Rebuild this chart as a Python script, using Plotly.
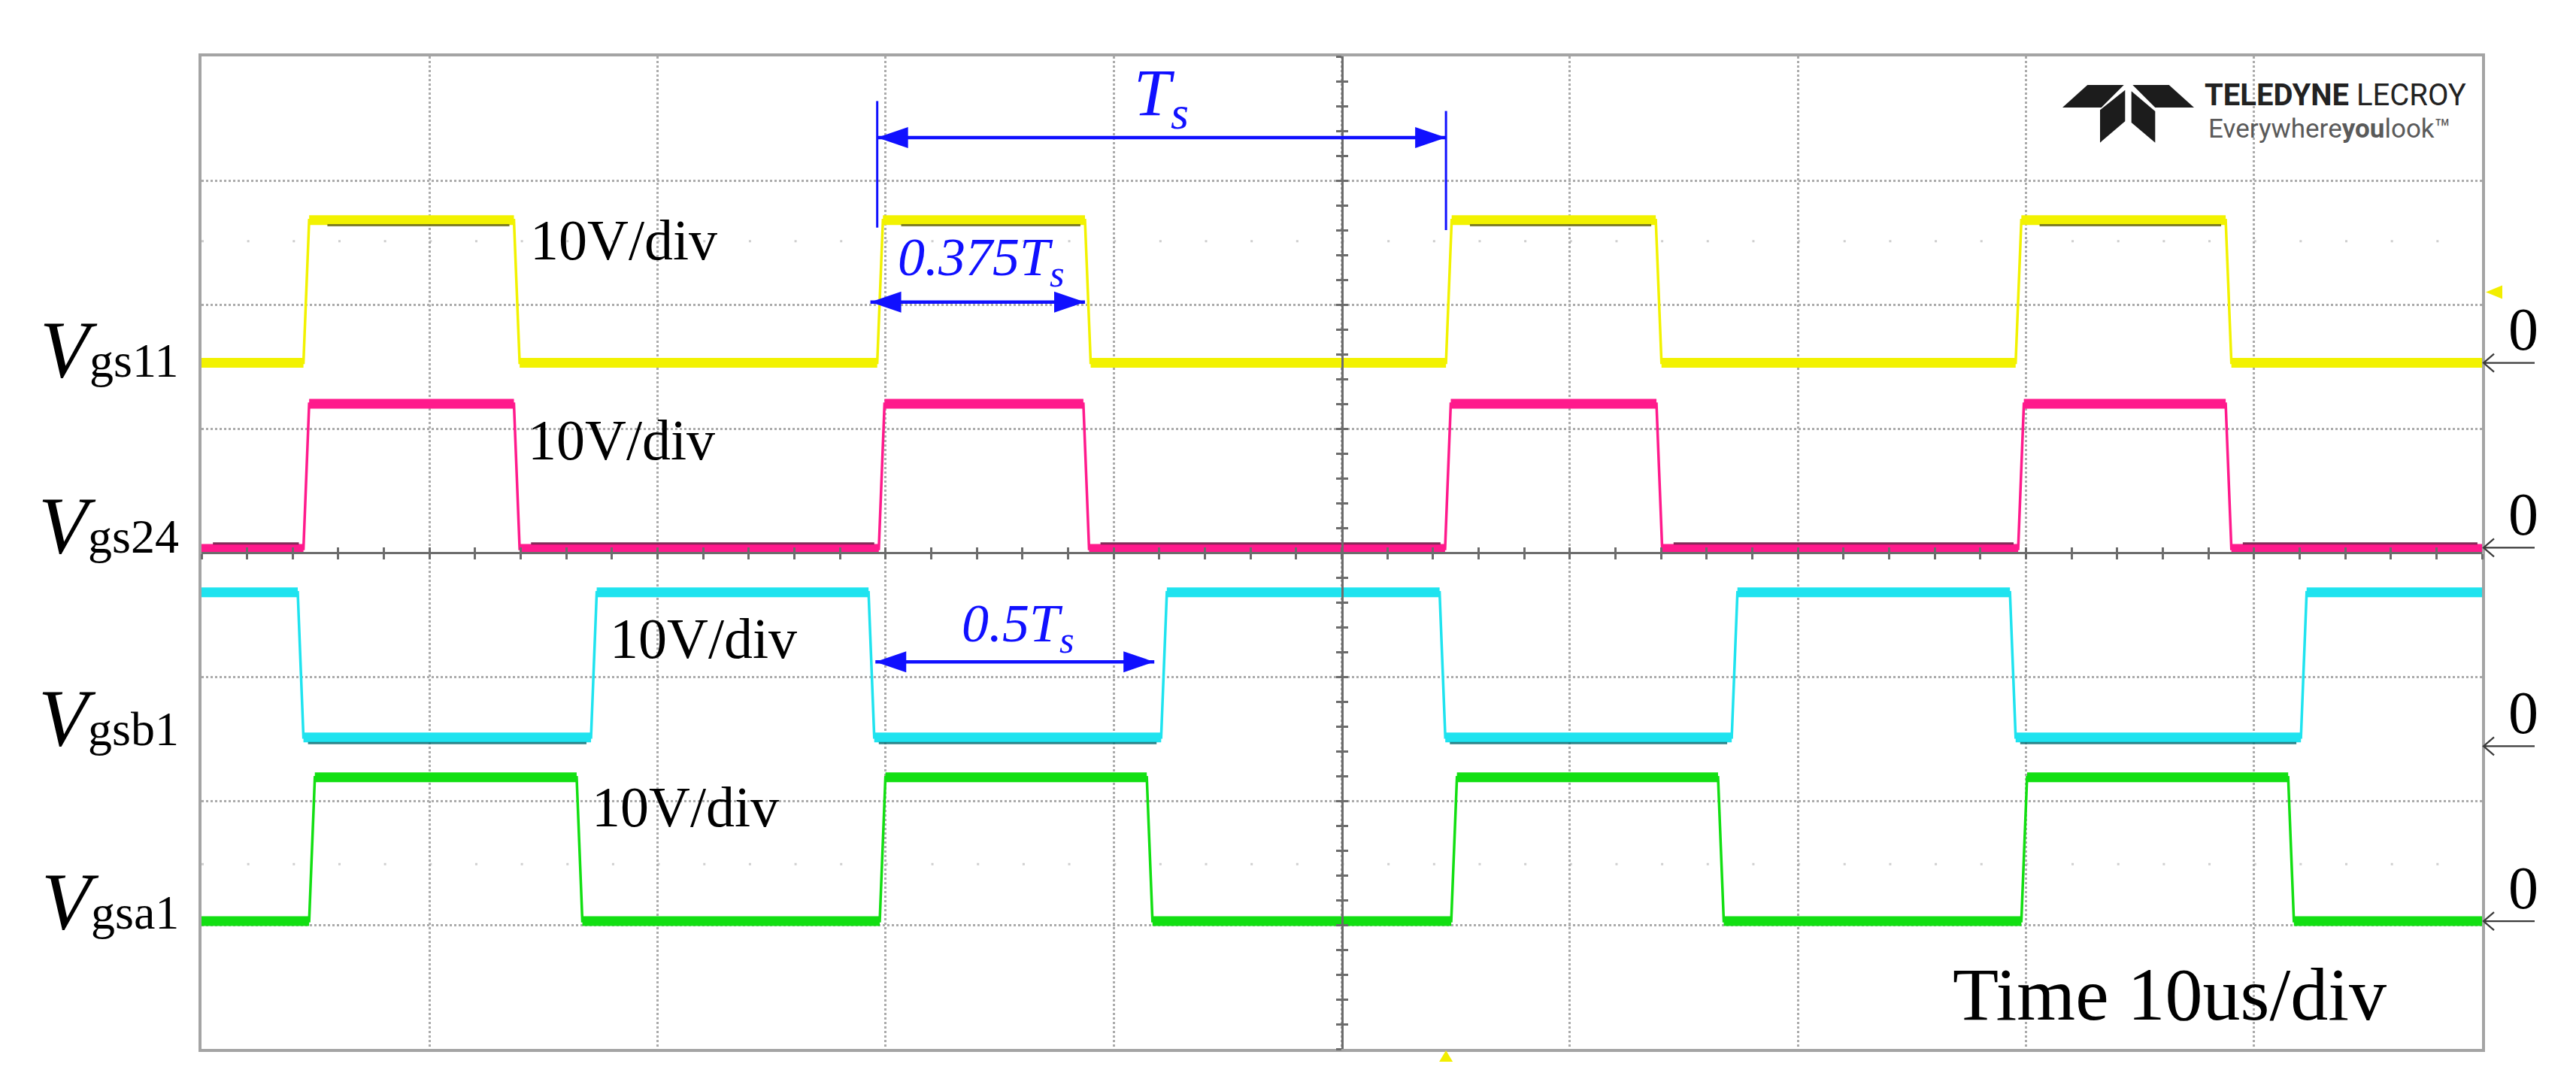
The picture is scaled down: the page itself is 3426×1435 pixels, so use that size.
import plotly.graph_objects as go

# scope screen: 10 time divisions (10 us/div), 8 amplitude divisions (10 V/div)
x_range = [0, 10]
y_range = [-4, 4]

channels = ["gs11", "gs24", "gsb1", "gsa1"]
colors = ["#f2f200", "#ff1a8c", "#1fe3ef", "#12df12"]
shadow_colors = ["#6a6a14", "#6e1040", "#0d6f76", "#0b6a0b"]

# levels in divisions
low_levels = [1.53, 0.03, -1.49, -2.97]
high_levels = [2.68, 1.20, -0.32, -1.81]
zero_marks = [1.53, 0.04, -1.56, -2.97]
start_high = [False, False, True, False]

# switching edges in divisions
rise_edges = [
    [0.447, 2.963, 5.457, 7.955],
    [0.447, 2.970, 5.453, 7.966],
    [1.708, 4.208, 6.710, 9.206],
    [0.472, 2.974, 5.480, 7.980],
]
fall_edges = [
    [1.370, 3.874, 6.377, 8.876],
    [1.370, 3.867, 6.380, 8.876],
    [0.422, 2.925, 5.429, 7.930],
    [1.645, 4.145, 6.650, 9.150],
]

label_y = [1.64, 0.22, -1.33, -2.81]
div_labels = ["10V/div"] * 4
div_label_pos = [(1.85, 2.52), (1.84, 0.91), (2.20, -0.69), (2.12, -2.05)]

# plot frame in screen pixels
L, R, T, B = 260, 3293, 67, 1387
W, H = 3426, 1435
EDGE = 0.025


def px_x(p):
    return (p - L) / (R - L)


def px_y(p):
    return (B - p) / (B - T)


def build_wave(lo, hi, rises, falls, high_first):
    events = sorted([(t, hi) for t in rises] + [(t, lo) for t in falls])
    cur = hi if high_first else lo
    xs, ys = [x_range[0]], [cur]
    segs = []
    seg_start = x_range[0]
    for t, new in events:
        xs += [t, t + EDGE]
        ys += [cur, new]
        segs.append((seg_start, t, cur))
        seg_start = t + EDGE
        cur = new
    xs.append(x_range[1])
    ys.append(cur)
    segs.append((seg_start, x_range[1], cur))
    return xs, ys, segs


fig = go.Figure()

for i, ch in enumerate(channels):
    xs, ys, segs = build_wave(low_levels[i], high_levels[i], rise_edges[i], fall_edges[i], start_high[i])
    bx, by = [], []
    for a, b, lev in segs:
        bx += [a, b, None]
        by += [lev, lev, None]
    fig.add_trace(go.Scatter(x=bx, y=by, mode="lines", line=dict(color=colors[i], width=13),
                             hoverinfo="skip", showlegend=False))
    fig.add_trace(go.Scatter(x=xs, y=ys, mode="lines", line=dict(color=colors[i], width=3.5),
                             name="V" + ch, showlegend=False))
    # darker persistence streak inside the thick bands
    sx, sy = [], []
    for a, b, lev in segs:
        if ch == "gs11" and lev == high_levels[i]:
            sx += [a + 0.08, b - 0.02, None]
            sy += [lev - 0.04, lev - 0.04, None]
        if ch == "gs24" and lev == low_levels[i]:
            sx += [a + 0.05, b - 0.02, None]
            sy += [lev + 0.045, lev + 0.045, None]
        if ch == "gsb1" and lev == low_levels[i]:
            sx += [a + 0.02, b - 0.02, None]
            sy += [lev - 0.045, lev - 0.045, None]
    if sx:
        fig.add_trace(go.Scatter(x=sx, y=sy, mode="lines", line=dict(color=shadow_colors[i], width=3),
                                 opacity=0.85, hoverinfo="skip", showlegend=False))

# dummy traces so the centre graticule axes get drawn
for xa, ya in [("x2", "y"), ("x3", "y"), ("x", "y2"), ("x", "y3")]:
    fig.add_trace(go.Scatter(x=[5], y=[0], xaxis=xa, yaxis=ya, mode="markers",
                             marker=dict(opacity=0), hoverinfo="skip", showlegend=False))

grid = dict(showgrid=True, gridcolor="#ababab", griddash="dot", gridwidth=3, dtick=1, tick0=0,
            showline=True, mirror=True, linecolor="#a4a4a4", linewidth=4,
            zeroline=False, showticklabels=False, ticks="", fixedrange=True)
centre = dict(anchor="free", position=0.5, dtick=0.2, tick0=0, showgrid=False, zeroline=False,
              showticklabels=False, ticklen=7, tickwidth=3, tickcolor="#6c6c6c", fixedrange=True)

shapes = []
annotations = []

# channel names on the left
for i, ch in enumerate(channels):
    annotations.append(dict(
        text="<i>V</i><span style='font-size:64px'>" + ch + "</span>",
        xref="paper", yref="y", x=px_x(232), y=label_y[i], xanchor="right", yanchor="middle",
        showarrow=False, font=dict(family="Liberation Serif", size=108, color="black")))
    # zero markers on the right
    annotations.append(dict(
        text="0", xref="paper", yref="y", x=px_x(3348), y=zero_marks[i] + 0.27,
        xanchor="center", yanchor="middle", showarrow=False,
        font=dict(family="Liberation Serif", size=80, color="black")))
    shapes.append(dict(type="path", xref="paper", yref="y", xsizemode="pixel", ysizemode="pixel",
                       xanchor=1.0, yanchor=zero_marks[i],
                       path="M2,0 L70,0 M16,12 L2,0 L16,-12",
                       line=dict(color="#3a3a3a", width=2.2)))

for (tx, ty), txt in zip(div_label_pos, div_labels):
    annotations.append(dict(text=txt, x=tx, y=ty, xref="x", yref="y", showarrow=False,
                            xanchor="center", yanchor="middle",
                            font=dict(family="Liberation Serif", size=76, color="black")))

annotations.append(dict(text="Time 10us/div", x=8.63, y=-3.56, xref="x", yref="y", showarrow=False,
                        xanchor="center", yanchor="middle",
                        font=dict(family="Liberation Serif", size=100, color="black")))

# blue dimension arrows
BLUE = "#1010ff"


def dim_arrow(x0, x1, y):
    shapes.append(dict(type="line", xref="x", yref="y", x0=x0, x1=x1, y0=y, y1=y,
                       line=dict(color=BLUE, width=4.5)))
    shapes.append(dict(type="path", xref="x", yref="y", xsizemode="pixel", ysizemode="pixel",
                       xanchor=x0, yanchor=y, path="M0,0 L41,14 L41,-14 Z",
                       fillcolor=BLUE, line=dict(width=0)))
    shapes.append(dict(type="path", xref="x", yref="y", xsizemode="pixel", ysizemode="pixel",
                       xanchor=x1, yanchor=y, path="M0,0 L-41,14 L-41,-14 Z",
                       fillcolor=BLUE, line=dict(width=0)))


ts_start = rise_edges[0][1]
ts_end = rise_edges[0][2]
shapes.append(dict(type="line", xref="x", yref="y", x0=ts_start, x1=ts_start, y0=2.62, y1=3.64,
                   line=dict(color=BLUE, width=3)))
shapes.append(dict(type="line", xref="x", yref="y", x0=ts_end, x1=ts_end, y0=2.60, y1=3.56,
                   line=dict(color=BLUE, width=3)))
dim_arrow(ts_start, ts_end, 3.345)
dim_arrow(rise_edges[0][1] - 0.03, fall_edges[0][1], 2.02)
dim_arrow(fall_edges[2][1] + 0.03, rise_edges[2][1] - 0.03, -0.88)

for txt, tx, ty, sz in [("T<sub>s</sub>", 4.21, 3.67, 88),
                        ("0.375T<sub>s</sub>", 3.42, 2.35, 72),
                        ("0.5T<sub>s</sub>", 3.58, -0.60, 72)]:
    annotations.append(dict(text="<i>" + txt + "</i>", x=tx, y=ty, xref="x", yref="y",
                            showarrow=False, xanchor="center", yanchor="middle",
                            font=dict(family="Liberation Serif", size=sz, color=BLUE)))

# trigger markers
shapes.append(dict(type="path", xref="paper", yref="y", xsizemode="pixel", ysizemode="pixel",
                   xanchor=1.0, yanchor=2.10, path="M5,0 L27,9 L27,-9 Z",
                   fillcolor="#f2ee00", line=dict(width=0)))
shapes.append(dict(type="path", xref="x", yref="paper", xsizemode="pixel", ysizemode="pixel",
                   xanchor=rise_edges[0][2], yanchor=0, path="M0,-2 L-9,-17 L9,-17 Z",
                   fillcolor="#f2ee00", line=dict(width=0)))

# faint dotted rows of the screen
for yy in [2.51, -2.51]:
    shapes.append(dict(type="line", xref="paper", yref="y", x0=0, x1=1, y0=yy, y1=yy,
                       line=dict(color="#cfcfcf", width=3, dash="3px,57.66px"), layer="below"))

# Teledyne LeCroy logo
logo_polys = [
    [(2768.3, 105), (2816.7, 105), (2786.7, 135), (2735, 135)],
    [(2828.3, 105), (2876.7, 105), (2910, 135), (2858.3, 135)],
    [(2785, 138.3), (2818.3, 111.7), (2818.3, 153.3), (2785, 181.7)],
    [(2826.7, 113.3), (2858.3, 140), (2858.3, 181.7), (2826.7, 155)],
]
for poly in logo_polys:
    d = "M" + " L".join("%.5f,%.5f" % (px_x(a), px_y(b)) for a, b in poly) + " Z"
    shapes.append(dict(type="path", xref="paper", yref="paper", path=d,
                       fillcolor="#1c1c1c", line=dict(width=0)))

annotations.append(dict(text="<b>TELEDYNE</b> LECROY", xref="paper", yref="paper",
                        x=px_x(2922), y=px_y(118), xanchor="left", yanchor="middle", showarrow=False,
                        font=dict(family="Roboto, sans-serif", size=40, color="#222222")))
annotations.append(dict(text="Everywhere<b>you</b>look\u2122", xref="paper", yref="paper",
                        x=px_x(2927), y=px_y(163), xanchor="left", yanchor="middle", showarrow=False,
                        font=dict(family="Roboto, sans-serif", size=35, color="#5a5a5a")))

fig.update_layout(
    width=W, height=H,
    margin=dict(l=L, r=W - R, t=T, b=H - B, pad=0),
    paper_bgcolor="white", plot_bgcolor="white",
    showlegend=False,
    xaxis=dict(range=x_range, **grid),
    yaxis=dict(range=y_range, **grid),
    xaxis2=dict(overlaying="x", range=x_range, ticks="outside", showline=True,
                linecolor="#6c6c6c", linewidth=3, **centre),
    xaxis3=dict(overlaying="x", range=x_range, ticks="inside", showline=False, **centre),
    yaxis2=dict(overlaying="y", range=y_range, ticks="outside", showline=True,
                linecolor="#6c6c6c", linewidth=3, **centre),
    yaxis3=dict(overlaying="y", range=y_range, ticks="inside", showline=False, **centre),
    shapes=shapes,
    annotations=annotations,
)

fig.write_html("out.html")
